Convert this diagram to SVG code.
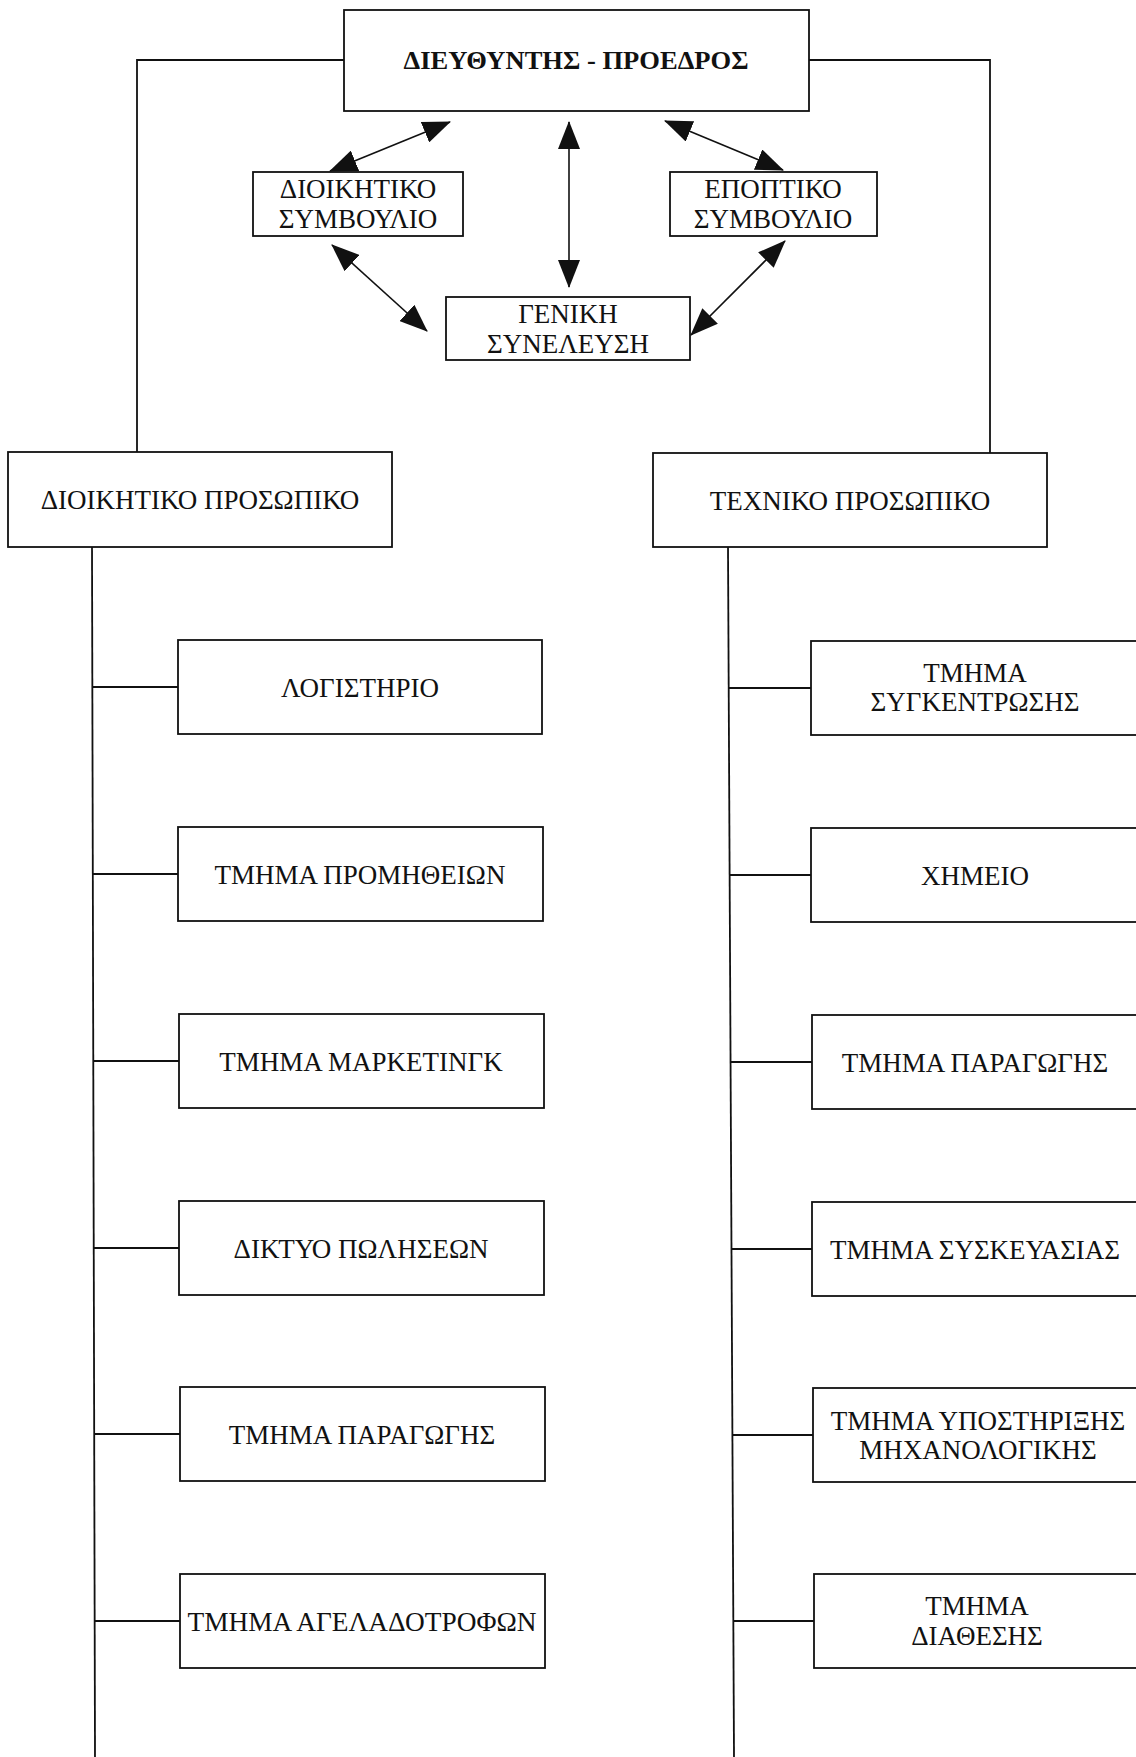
<svg xmlns="http://www.w3.org/2000/svg" width="1136" height="1757" viewBox="0 0 1136 1757">
<style>
.box{fill:#fff;stroke:#111;stroke-width:1.8}
.ln{fill:none;stroke:#111;stroke-width:1.8}
.ar{fill:none;stroke:#111;stroke-width:1.6;marker-start:url(#ah);marker-end:url(#ah)}
text{font-family:"Liberation Serif","Times New Roman",serif;font-size:27px;fill:#111;text-anchor:middle}
.t{font-weight:bold;font-size:25px}
</style>
<defs>
<marker id="ah" markerUnits="userSpaceOnUse" markerWidth="28" markerHeight="22" refX="27" refY="11" orient="auto-start-reverse" viewBox="0 0 28 22">
<path d="M0,0 L28,11 L0,22 z" fill="#111"/>
</marker>
</defs>
<g id="connectors">
<polyline class="ln" points="344,60 137,60 137,453"/>
<polyline class="ln" points="807,60 990,60 990,453"/>
<line class="ar" x1="450" y1="122" x2="330" y2="171"/>
<line class="ar" x1="569" y1="122" x2="569" y2="287"/>
<line class="ar" x1="665" y1="121" x2="783" y2="170"/>
<line class="ar" x1="332" y1="245" x2="427" y2="331"/>
<line class="ar" x1="785" y1="241" x2="691" y2="335"/>
<line class="ln" x1="92" y1="547" x2="95" y2="1757"/>
<line class="ln" x1="728" y1="547" x2="734" y2="1757"/>
<line class="ln" x1="92" y1="687" x2="178" y2="687"/>
<line class="ln" x1="93" y1="874" x2="178" y2="874"/>
<line class="ln" x1="93" y1="1061" x2="179" y2="1061"/>
<line class="ln" x1="94" y1="1248" x2="179" y2="1248"/>
<line class="ln" x1="94" y1="1434" x2="180" y2="1434"/>
<line class="ln" x1="95" y1="1621" x2="180" y2="1621"/>
<line class="ln" x1="729" y1="688" x2="811" y2="688"/>
<line class="ln" x1="730" y1="875" x2="811" y2="875"/>
<line class="ln" x1="731" y1="1062" x2="812" y2="1062"/>
<line class="ln" x1="732" y1="1249" x2="812" y2="1249"/>
<line class="ln" x1="733" y1="1435" x2="813" y2="1435"/>
<line class="ln" x1="734" y1="1621" x2="814" y2="1621"/>
</g>
<g id="director">
<rect class="box" x="344" y="10" width="465" height="101"/>
<text class="t" x="576" y="69" textLength="345" lengthAdjust="spacingAndGlyphs">ΔΙΕΥΘΥΝΤΗΣ - ΠΡΟΕΔΡΟΣ</text>
</g>
<g id="board-admin">
<rect class="box" x="253" y="172" width="210" height="64"/>
<text x="358" y="198">ΔΙΟΙΚΗΤΙΚΟ</text>
<text x="358" y="228">ΣΥΜΒΟΥΛΙΟ</text>
</g>
<g id="board-super">
<rect class="box" x="670" y="172" width="207" height="64"/>
<text x="773" y="198">ΕΠΟΠΤΙΚΟ</text>
<text x="773" y="228">ΣΥΜΒΟΥΛΙΟ</text>
</g>
<g id="assembly">
<rect class="box" x="446" y="297" width="244" height="63"/>
<text x="568" y="323">ΓΕΝΙΚΗ</text>
<text x="568" y="353">ΣΥΝΕΛΕΥΣΗ</text>
</g>
<g id="admin-staff">
<rect class="box" x="8" y="452" width="384" height="95"/>
<text x="200" y="509">ΔΙΟΙΚΗΤΙΚΟ ΠΡΟΣΩΠΙΚΟ</text>
</g>
<g id="tech-staff">
<rect class="box" x="653" y="453" width="394" height="94"/>
<text x="850" y="510">ΤΕΧΝΙΚΟ ΠΡΟΣΩΠΙΚΟ</text>
</g>
<g id="l1"><rect class="box" x="178" y="640" width="364" height="94"/><text x="360" y="697">ΛΟΓΙΣΤΗΡΙΟ</text></g>
<g id="l2"><rect class="box" x="178" y="827" width="365" height="94"/><text x="360" y="884">ΤΜΗΜΑ ΠΡΟΜΗΘΕΙΩΝ</text></g>
<g id="l3"><rect class="box" x="179" y="1014" width="365" height="94"/><text x="361" y="1071">ΤΜΗΜΑ ΜΑΡΚΕΤΙΝΓΚ</text></g>
<g id="l4"><rect class="box" x="179" y="1201" width="365" height="94"/><text x="361" y="1258">ΔΙΚΤΥΟ ΠΩΛΗΣΕΩΝ</text></g>
<g id="l5"><rect class="box" x="180" y="1387" width="365" height="94"/><text x="362" y="1444">ΤΜΗΜΑ ΠΑΡΑΓΩΓΗΣ</text></g>
<g id="l6"><rect class="box" x="180" y="1574" width="365" height="94"/><text x="362" y="1631" textLength="349" lengthAdjust="spacingAndGlyphs">ΤΜΗΜΑ ΑΓΕΛΑΔΟΤΡΟΦΩΝ</text></g>
<g id="r1"><rect class="box" x="811" y="641" width="340" height="94"/><text x="975" y="682">ΤΜΗΜΑ</text><text x="975" y="711">ΣΥΓΚΕΝΤΡΩΣΗΣ</text></g>
<g id="r2"><rect class="box" x="811" y="828" width="340" height="94"/><text x="975" y="885">ΧΗΜΕΙΟ</text></g>
<g id="r3"><rect class="box" x="812" y="1015" width="340" height="94"/><text x="975" y="1072">ΤΜΗΜΑ ΠΑΡΑΓΩΓΗΣ</text></g>
<g id="r4"><rect class="box" x="812" y="1202" width="340" height="94"/><text x="975" y="1259">ΤΜΗΜΑ ΣΥΣΚΕΥΑΣΙΑΣ</text></g>
<g id="r5"><rect class="box" x="813" y="1388" width="340" height="94"/><text x="978" y="1430">ΤΜΗΜΑ ΥΠΟΣΤΗΡΙΞΗΣ</text><text x="978" y="1459">ΜΗΧΑΝΟΛΟΓΙΚΗΣ</text></g>
<g id="r6"><rect class="box" x="814" y="1574" width="340" height="94"/><text x="977" y="1615">ΤΜΗΜΑ</text><text x="977" y="1645">ΔΙΑΘΕΣΗΣ</text></g>
</svg>
